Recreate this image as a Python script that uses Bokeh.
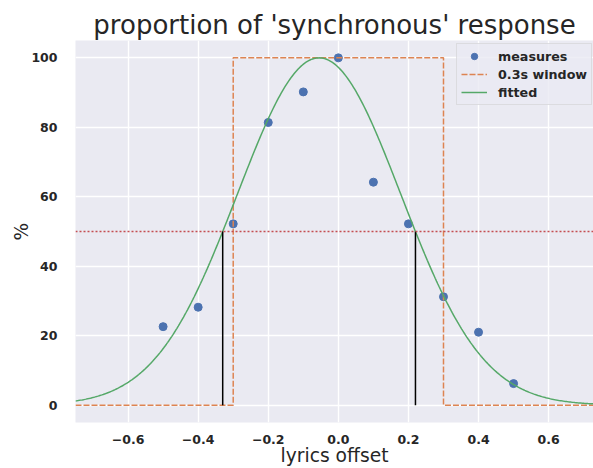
import numpy as np
from bokeh.plotting import figure
from bokeh.models import Legend, LegendItem, Range1d, FixedTicker, Span
from bokeh.embed import file_html
from bokeh.resources import INLINE

# measured data
offsets = [-0.5, -0.4, -0.3, -0.2, -0.1, 0.0, 0.1, 0.2, 0.3, 0.4, 0.5]
percent = [22.6, 28.2, 52.2, 81.4, 90.2, 100.0, 64.2, 52.2, 31.2, 21.0, 6.2]

# 0.3s window (step)
window_x = [-0.75, -0.3, -0.3, 0.3, 0.3, 0.75]
window_y = [0, 0, 100, 100, 0, 0]

# fitted gaussian parameters
fit_amp = 100.0
fit_mu = -0.055
fit_sigma = 0.2335

# half-maximum crossings
half_level = 50
cross_x = [-0.33, 0.22]

x_ticks = [-0.6, -0.4, -0.2, 0.0, 0.2, 0.4, 0.6]
y_ticks = [0, 20, 40, 60, 80, 100]

FONT = "DejaVu Sans"
TXT = "#262626"

p = figure(width=593, height=468, output_backend="svg", toolbar_location=None,
           x_range=Range1d(-0.75, 0.728), y_range=Range1d(-5, 105),
           min_border_left=75, min_border_right=0, min_border_top=40,
           min_border_bottom=46)

p.title.text = "proportion of 'synchronous' response"
p.title.text_font = FONT
p.title.text_font_size = "26px"
p.title.text_font_style = "normal"
p.title.text_color = TXT
p.title.align = "center"
p.title.offset = 4
p.title.standoff = 2

p.background_fill_color = "#EAEAF2"
p.border_fill_color = "white"
p.outline_line_color = None

for ax in (p.xaxis, p.yaxis):
    ax.axis_line_color = None
    ax.major_tick_line_color = None
    ax.minor_tick_line_color = None
    ax.major_label_text_font = FONT
    ax.major_label_text_font_style = "bold"
    ax.major_label_text_font_size = "12.5px"
    ax.major_label_text_color = TXT
    ax.axis_label_text_font = FONT
    ax.axis_label_text_font_style = "normal"
    ax.axis_label_text_font_size = "18.7px"
    ax.axis_label_text_color = TXT

p.xaxis.ticker = FixedTicker(ticks=x_ticks)
p.yaxis.ticker = FixedTicker(ticks=y_ticks)
p.xaxis.major_label_overrides = {t: (f"{t:.1f}".replace("-", "\u2212")) for t in x_ticks}
p.xaxis.major_label_standoff = 6
p.yaxis.major_label_standoff = 12
p.xaxis.axis_label = "lyrics offset"
p.yaxis.axis_label = "%"
p.xaxis.axis_label_standoff = -2
p.yaxis.axis_label_standoff = -4

p.grid.grid_line_color = "white"
p.grid.grid_line_width = 1.4
p.xgrid.ticker = FixedTicker(ticks=x_ticks)
p.ygrid.ticker = FixedTicker(ticks=y_ticks)

# curve
fx = np.linspace(-0.75, 0.75, 400)
fy = fit_amp * np.exp(-0.5 * ((fx - fit_mu) / fit_sigma) ** 2)

r_pts = p.scatter(offsets, percent, size=8, color="#4C72B0", line_color="#4C72B0")
r_win = p.line(window_x, window_y, line_color="#DD8452", line_width=1.5, line_dash="6 2")
r_fit = p.line(fx, fy, line_color="#55A868", line_width=1.5)

p.add_layout(Span(location=half_level, dimension="width", line_color="#C44E52",
                  line_width=1.5, line_dash="2 2"))
for cx in cross_x:
    p.line([cx, cx], [0, half_level], line_color="black", line_width=1.5)

legend = Legend(items=[LegendItem(label="measures", renderers=[r_pts]),
                       LegendItem(label="0.3s window", renderers=[r_win]),
                       LegendItem(label="fitted", renderers=[r_fit])],
                location=(381, 317))
legend.label_text_font = FONT
legend.label_text_font_style = "bold"
legend.label_text_font_size = "12.7px"
legend.label_text_color = TXT
legend.padding = 4
legend.spacing = 2
legend.glyph_width = 26
legend.glyph_height = 16
legend.label_standoff = 11
legend.label_height = 16
legend.background_fill_color = "#EAEAF2"
legend.background_fill_alpha = 0.8
legend.border_line_color = "#CCCCCC"
legend.border_line_width = 1
p.add_layout(legend)

open("out.html", "w").write(file_html(p, INLINE))
